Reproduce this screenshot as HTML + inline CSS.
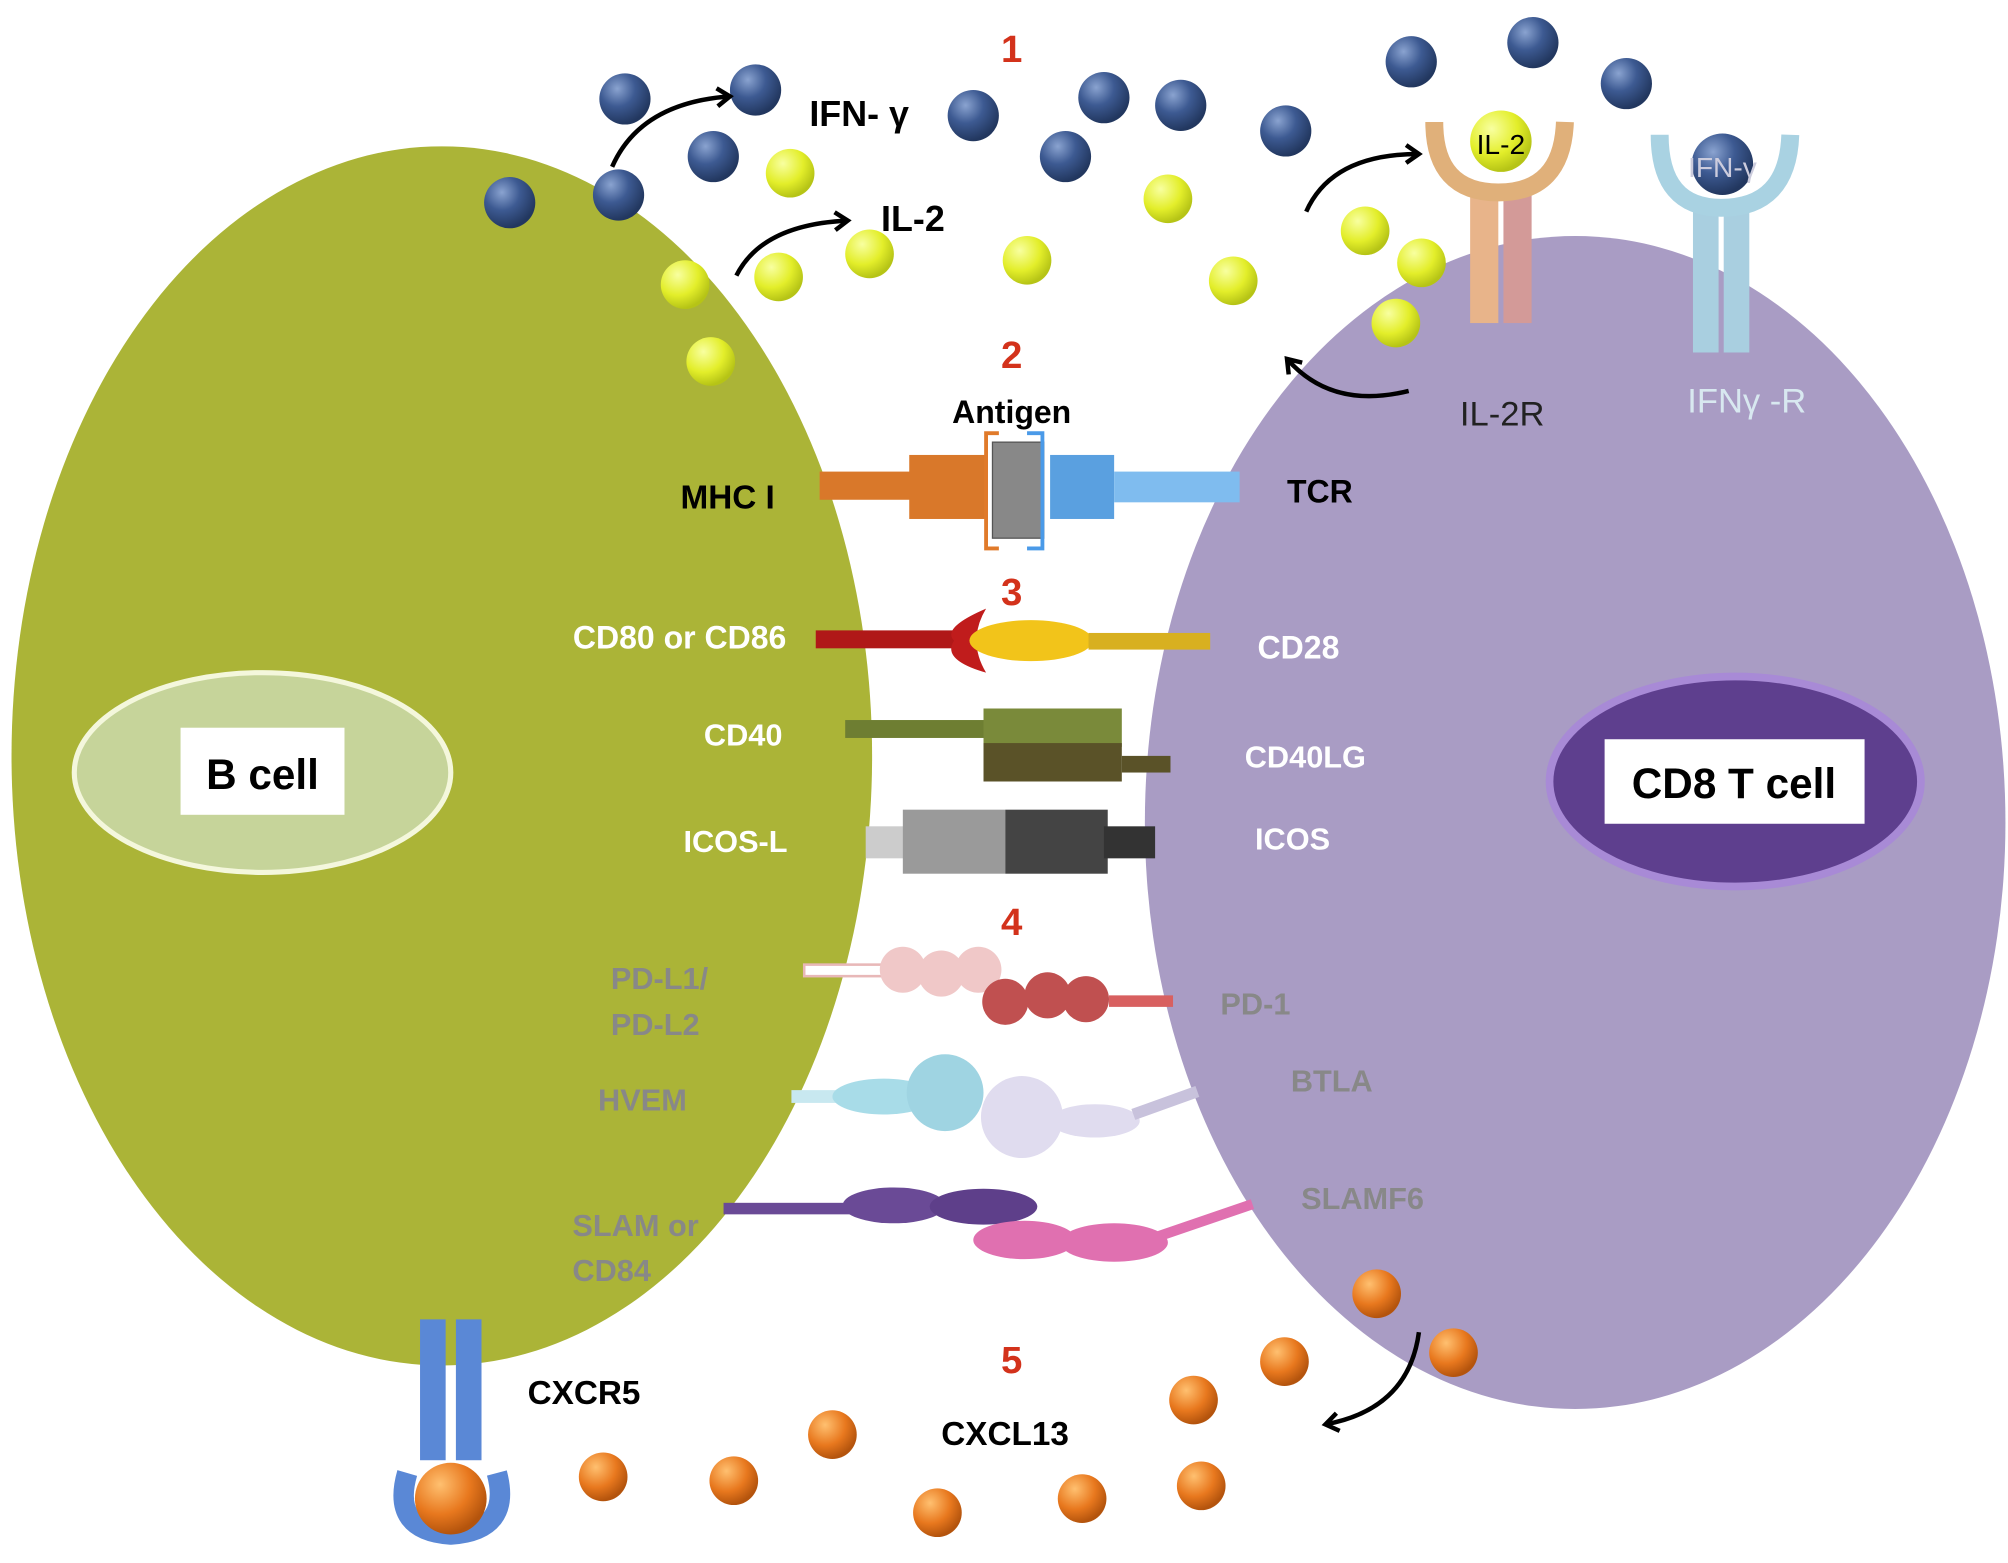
<!DOCTYPE html>
<html><head><meta charset="utf-8"><style>
html,body{margin:0;padding:0;background:#fff}
svg{display:block}
text{font-family:"Liberation Sans",sans-serif;font-weight:bold}
</style></head><body>
<svg width="2008" height="1563" viewBox="0 0 1568 1220" xmlns="http://www.w3.org/2000/svg">
<defs>
<radialGradient id="gb" cx="35%" cy="30%" r="70%"><stop offset="0" stop-color="#8aa3d0"/><stop offset="0.5" stop-color="#3d5a92"/><stop offset="1" stop-color="#22375f"/></radialGradient>
<radialGradient id="gy" cx="35%" cy="30%" r="70%"><stop offset="0" stop-color="#f8ffa0"/><stop offset="0.6" stop-color="#e3ee2a"/><stop offset="1" stop-color="#b6c416"/></radialGradient>
<radialGradient id="go" cx="35%" cy="30%" r="70%"><stop offset="0" stop-color="#ffc070"/><stop offset="0.6" stop-color="#e8781e"/><stop offset="1" stop-color="#b4540d"/></radialGradient>
<marker id="ah" markerUnits="userSpaceOnUse" markerWidth="20" markerHeight="20" refX="14" refY="10" orient="auto"><path d="M4,3 L14,10 L4,17" fill="none" stroke="#000" stroke-width="3.5"/></marker>
</defs>
<ellipse cx="1230" cy="642" rx="336" ry="458" fill="#a99cc4"/>
<ellipse cx="345" cy="590" rx="336" ry="476" fill="#abb437"/>
<ellipse cx="205" cy="603" rx="147" ry="78" fill="#c6d49a" stroke="#f4f7dc" stroke-width="4"/>
<rect x="141" y="568" width="128" height="68" fill="#fff"/>
<text x="205" y="616" font-size="33" text-anchor="middle" fill="#000">B cell</text>
<ellipse cx="1355" cy="610" rx="145" ry="82" fill="#5e3f8e" stroke="#a88ad6" stroke-width="6"/>
<rect x="1253" y="577" width="203" height="66" fill="#fff"/>
<text x="1354" y="623" font-size="33" text-anchor="middle" fill="#000">CD8 T cell</text>
<g fill="#d3321b" font-size="30" text-anchor="middle">
<text x="790" y="48">1</text><text x="790" y="287">2</text><text x="790" y="472">3</text><text x="790" y="730">4</text><text x="790" y="1072">5</text></g>
<rect x="1148" y="150" width="22" height="102" fill="#e8b48a"/><rect x="1174" y="150" width="22" height="102" fill="#d39a98"/>
<path d="M1120,95 Q1120,150 1170,150 Q1220,150 1222,95" fill="none" stroke="#e0b07a" stroke-width="14"/>
<circle cx="1172" cy="110" r="24" fill="url(#gy)"/><text x="1172" y="120" font-size="22" text-anchor="middle" style="font-weight:normal">IL-2</text>
<rect x="1322" y="165" width="20" height="110" fill="#a9cfe0"/><rect x="1346" y="165" width="20" height="110" fill="#a9cfe0"/>
<path d="M1296,105 Q1296,162 1344,162 Q1396,162 1398,105" fill="none" stroke="#a9d2e2" stroke-width="14"/>
<circle cx="1345" cy="128" r="24" fill="url(#gb)"/><text x="1345" y="138" font-size="22" fill="#ccd" text-anchor="middle" style="font-weight:normal">IFN-γ</text>
<text x="1173" y="332" font-size="27" fill="#222" text-anchor="middle" style="font-weight:normal">IL-2R</text>
<text x="1364" y="322" font-size="27" fill="#d8e8f0" text-anchor="middle" style="font-weight:normal">IFNγ -R</text>
<rect x="328" y="1030" width="20" height="110" fill="#5a88d6"/><rect x="356" y="1030" width="20" height="110" fill="#5a88d6"/>
<path d="M318,1150 Q305,1195 352,1198 Q400,1195 388,1150" fill="none" stroke="#5a88d6" stroke-width="16"/>
<circle cx="352" cy="1170" r="28" fill="url(#go)"/>
<g fill="url(#gb)">
<circle cx="398" cy="158" r="20"/><circle cx="483" cy="152" r="20"/><circle cx="488" cy="77" r="20"/><circle cx="590" cy="70" r="20"/><circle cx="557" cy="122" r="20"/><circle cx="760" cy="90" r="20"/><circle cx="862" cy="76" r="20"/><circle cx="922" cy="82" r="20"/><circle cx="1004" cy="102" r="20"/><circle cx="832" cy="122" r="20"/><circle cx="1102" cy="48" r="20"/><circle cx="1197" cy="33" r="20"/><circle cx="1270" cy="65" r="20"/></g>
<g fill="url(#gy)">
<circle cx="617" cy="135" r="19"/><circle cx="535" cy="222" r="19"/><circle cx="555" cy="282" r="19"/><circle cx="608" cy="216" r="19"/><circle cx="679" cy="198" r="19"/><circle cx="802" cy="203" r="19"/><circle cx="912" cy="155" r="19"/><circle cx="963" cy="219" r="19"/><circle cx="1066" cy="180" r="19"/><circle cx="1110" cy="205" r="19"/><circle cx="1090" cy="252" r="19"/></g>
<g fill="url(#go)">
<circle cx="1075" cy="1010" r="19"/><circle cx="1135" cy="1056" r="19"/><circle cx="1003" cy="1063" r="19"/><circle cx="932" cy="1093" r="19"/><circle cx="938" cy="1160" r="19"/><circle cx="845" cy="1170" r="19"/><circle cx="732" cy="1181" r="19"/><circle cx="650" cy="1120" r="19"/><circle cx="573" cy="1156" r="19"/><circle cx="471" cy="1153" r="19"/></g>
<g fill="none" stroke="#000" stroke-width="3.5" marker-end="url(#ah)">
<path d="M478,130 Q500,80 570,75"/><path d="M575,215 Q595,175 662,172"/>
<path d="M1020,165 Q1040,120 1108,120"/><path d="M1100,305 Q1040,320 1005,280"/>
<path d="M1108,1040 Q1100,1100 1035,1112"/></g>
<text x="632" y="98" font-size="28">IFN- γ</text>
<text x="688" y="180" font-size="28">IL-2</text>
<text x="790" y="330" font-size="25" text-anchor="middle">Antigen</text>
<rect x="640" y="368" width="75" height="22" fill="#d9782a"/>
<rect x="710" y="355" width="60" height="50" fill="#d9782a"/>
<rect x="820" y="355" width="50" height="50" fill="#5aa0e0"/>
<rect x="870" y="368" width="98" height="24" fill="#7fbcef"/>
<rect x="775" y="345" width="40" height="75" fill="#888" stroke="#555"/>
<path d="M780,338 h-10 v90 h10" fill="none" stroke="#e07a2a" stroke-width="3"/>
<path d="M802,338 h12 v90 h-12" fill="none" stroke="#4a9ae8" stroke-width="3"/>
<text x="605" y="397" font-size="26" text-anchor="end">MHC I</text>
<text x="1005" y="392" font-size="25">TCR</text>
<rect x="637" y="492" width="115" height="14" fill="#b01818"/>
<path d="M770,475 Q735,490 745,500 Q735,515 770,525 Q755,500 770,475Z" fill="#c01c1c"/>
<ellipse cx="805" cy="500" rx="48" ry="16" fill="#f2c41a"/>
<rect x="850" y="494" width="95" height="13" fill="#d8b020"/>
<g fill="#fff" font-size="24"><text x="614" y="506" text-anchor="end" font-size="25">CD80 or CD86</text>
<text x="982" y="514" font-size="25">CD28</text><text x="611" y="582" text-anchor="end">CD40</text>
<text x="972" y="599">CD40LG</text><text x="615" y="665" text-anchor="end">ICOS-L</text><text x="980" y="663">ICOS</text></g>
<rect x="660" y="562" width="115" height="14" fill="#6e7e32"/>
<rect x="768" y="553" width="108" height="30" fill="#7a8a3a"/>
<rect x="768" y="580" width="108" height="30" fill="#5a5228"/>
<rect x="876" y="590" width="38" height="13" fill="#5a5228"/>
<rect x="676" y="645" width="30" height="25" fill="#ccc"/>
<rect x="705" y="632" width="80" height="50" fill="#9a9a9a"/>
<rect x="785" y="632" width="80" height="50" fill="#444"/>
<rect x="862" y="645" width="40" height="25" fill="#333"/>
<rect x="628" y="753" width="65" height="9" fill="#fff" stroke="#e8b8b8" stroke-width="2"/>
<circle cx="705" cy="757" r="18" fill="#f0c8c8"/><circle cx="735" cy="760" r="18" fill="#f0c8c8"/><circle cx="764" cy="757" r="18" fill="#f0c8c8"/>
<circle cx="785" cy="782" r="18" fill="#c05050"/><circle cx="818" cy="777" r="18" fill="#c05050"/><circle cx="848" cy="780" r="18" fill="#c05050"/>
<rect x="866" y="777" width="50" height="9" fill="#d86060"/>
<rect x="618" y="851" width="60" height="10" fill="#c8e8f0"/>
<ellipse cx="690" cy="856" rx="40" ry="14" fill="#a8dce8"/>
<circle cx="738" cy="853" r="30" fill="#9fd4e2"/>
<circle cx="798" cy="872" r="32" fill="#e0dcef"/>
<ellipse cx="855" cy="875" rx="35" ry="13" fill="#e0dcef"/>
<path d="M885,870 L935,852" stroke="#c8c2dc" stroke-width="9"/>
<rect x="565" y="939" width="100" height="9" fill="#6a4a96"/>
<ellipse cx="698" cy="941" rx="40" ry="14" fill="#6a4a96"/>
<ellipse cx="768" cy="942" rx="42" ry="14" fill="#5e3f8a"/>
<ellipse cx="800" cy="968" rx="40" ry="15" fill="#e070b0"/>
<ellipse cx="870" cy="970" rx="42" ry="15" fill="#e070b0"/>
<path d="M905,965 L978,940" stroke="#e070b0" stroke-width="8"/>
<g fill="#888" font-size="24">
<text x="477" y="772">PD-L1/</text><text x="477" y="808">PD-L2</text>
<text x="467" y="867">HVEM</text><text x="447" y="965">SLAM or</text><text x="447" y="1000">CD84</text>
<text x="953" y="792">PD-1</text><text x="1008" y="852">BTLA</text><text x="1016" y="944">SLAMF6</text></g>
<text x="412" y="1096" font-size="26">CXCR5</text>
<text x="735" y="1128" font-size="26">CXCL13</text>
</svg>
</body></html>
